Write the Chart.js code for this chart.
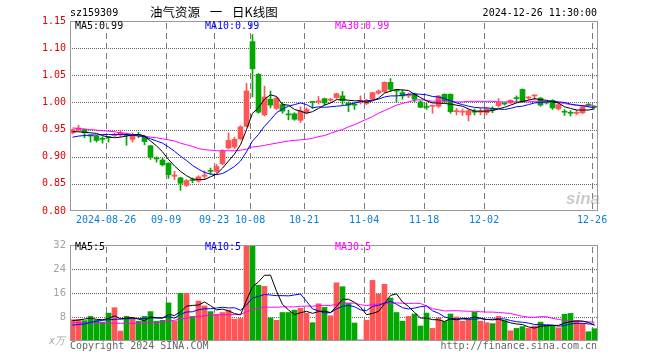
<!DOCTYPE html>
<html>
<head>
<meta charset="utf-8">
<script src="https://cdn.jsdelivr.net/npm/chart.js@4/dist/chart.umd.min.js"></script>
<style>
body { margin: 0; background: #fff; width: 660px; height: 360px; position: relative; overflow: hidden; font-family: "DejaVu Sans Mono", monospace; }
canvas { position: absolute; left: 0; }
.t { position: absolute; font-size: 10px; line-height: 10px; white-space: pre; }
</style>
</head>
<body>
<canvas id="kline" width="660" height="235" style="top:0"></canvas>
<canvas id="vol" width="660" height="125" style="top:235px"></canvas>

<div class="t" style="left:70px;top:8px;color:#000">sz159309</div>
<div class="t" style="left:150px;top:5px;font:12.5px/14px 'Noto Sans CJK SC';word-spacing:7px;color:#000">油气资源 一 日K线图</div>
<div class="t" style="right:63px;top:8px;color:#000">2024-12-26 11:30:00</div>
<div class="t" style="left:75px;top:21px;color:#000">MA5:0.99</div>
<div class="t" style="left:205px;top:21px;color:#0000ff">MA10:0.99</div>
<div class="t" style="left:335px;top:21px;color:#ff00ff">MA30:0.99</div>
<div class="t" style="left:75px;top:242px;color:#000">MA5:5</div>
<div class="t" style="left:205px;top:242px;color:#0000ff">MA10:5</div>
<div class="t" style="left:335px;top:242px;color:#ff00ff">MA30:5</div>
<div class="t" style="left:49px;top:336px;color:#aaa;font-style:italic">x万</div>
<div class="t" style="left:70px;top:341px;color:#666">Copyright 2024 SINA.COM</div>
<div class="t" style="right:63px;top:341px;color:#666">http://finance.sina.com.cn</div>
<div class="t" style="left:566px;top:190px;font:italic bold 17px/18px 'Liberation Sans';color:rgba(150,150,150,.5)">sina</div>

<script>
//Dates (trading days)
const dates = ['08-16','08-19','08-20','08-21','08-22','08-23','08-26','08-27','08-28','08-29',
  '08-30','09-02','09-03','09-04','09-05','09-06','09-09','09-10','09-11','09-12',
  '09-13','09-18','09-19','09-20','09-23','09-24','09-25','09-26','09-27','09-30',
  '10-08','10-09','10-10','10-11','10-14','10-15','10-16','10-17','10-18','10-21',
  '10-22','10-23','10-24','10-25','10-28','10-29','10-30','10-31','11-01','11-04',
  '11-05','11-06','11-07','11-08','11-11','11-12','11-13','11-14','11-15','11-18',
  '11-19','11-20','11-21','11-22','11-25','11-26','11-27','11-28','11-29','12-02',
  '12-03','12-04','12-05','12-06','12-09','12-10','12-11','12-12','12-13','12-16',
  '12-17','12-18','12-19','12-20','12-23','12-24','12-25','12-26'];

const tickDays = ['08-26','09-09','09-23','10-08','10-21','11-04','11-18','12-02','12-26'];
const tickLabels = ['2024-08-26','09-09','09-23','10-08','10-21','11-04','11-18','12-02','12-26'];
const priceTicks = [0.80, 0.85, 0.90, 0.95, 1.00, 1.05, 1.10, 1.15];
const volTicks = [0, 8, 16, 24, 32];

//OHLC
const open = [0.944,0.949,0.950,0.939,0.938,0.933,0.937,0.939,0.940,0.940,
  0.932,0.940,0.937,0.920,0.897,0.894,0.888,0.864,0.861,0.847,
  0.857,0.855,0.864,0.874,0.873,0.887,0.916,0.918,0.933,0.956,
  1.112,1.052,0.977,1.006,0.989,0.996,0.978,0.979,0.967,0.981,
  1.001,1.001,1.007,1.004,1.009,1.012,0.999,0.996,1.002,0.998,
  1.006,1.017,1.020,1.037,1.022,1.018,1.012,1.015,1.001,0.992,
  0.993,0.993,1.015,1.015,0.983,0.982,0.977,0.983,0.982,0.981,
  0.987,0.994,0.998,0.999,1.008,1.024,1.008,1.012,1.008,1.000,
  1.004,0.988,0.983,0.981,0.980,0.981,0.996,0.993];
const high = [0.951,0.958,0.951,0.939,0.939,0.937,0.937,0.943,0.949,0.943,
  0.944,0.945,0.939,0.921,0.900,0.897,0.889,0.873,0.862,0.858,
  0.861,0.865,0.874,0.879,0.886,0.913,0.944,0.936,0.957,1.035,
  1.125,1.053,1.030,1.021,1.010,1.000,0.986,0.981,0.992,0.990,
  1.002,1.011,1.008,1.008,1.017,1.020,1.001,1.000,1.012,1.006,
  1.019,1.023,1.038,1.044,1.024,1.023,1.017,1.017,1.003,0.999,
  0.995,1.013,1.016,1.016,0.989,0.988,0.987,0.988,0.989,0.990,
  0.992,1.007,0.999,1.005,1.012,1.025,1.011,1.014,1.009,1.002,
  1.005,0.999,0.987,0.985,0.986,0.993,0.998,0.994];
const low = [0.942,0.947,0.935,0.927,0.927,0.925,0.927,0.937,0.937,0.921,
  0.927,0.935,0.922,0.895,0.890,0.883,0.860,0.858,0.838,0.845,
  0.852,0.853,0.858,0.868,0.870,0.885,0.914,0.915,0.931,0.955,
  1.010,0.980,0.975,0.990,0.987,0.980,0.968,0.967,0.963,0.979,
  0.989,0.997,0.995,1.002,1.007,0.996,0.983,0.987,0.997,0.996,
  1.005,1.015,1.018,1.020,1.001,1.006,1.009,1.001,0.990,0.987,
  0.980,0.990,1.000,0.980,0.977,0.976,0.966,0.977,0.977,0.977,
  0.981,0.991,0.995,0.998,1.001,1.000,1.005,1.005,0.993,0.997,
  0.987,0.986,0.976,0.975,0.977,0.979,0.992,0.990];
const close = [0.950,0.953,0.944,0.938,0.930,0.932,0.935,0.941,0.944,0.939,
  0.940,0.939,0.928,0.899,0.896,0.885,0.867,0.866,0.851,0.856,
  0.856,0.863,0.866,0.873,0.882,0.910,0.930,0.932,0.955,1.021,
  1.062,0.982,1.010,0.995,1.008,0.984,0.977,0.969,0.984,0.987,
  1.000,1.003,0.999,1.006,1.016,1.003,0.995,0.995,1.004,1.004,
  1.018,1.021,1.037,1.024,1.021,1.012,1.014,1.006,0.991,0.991,
  0.994,1.012,1.003,0.983,0.985,0.983,0.985,0.982,0.984,0.988,
  0.986,0.999,0.997,1.004,1.007,1.001,1.010,1.013,0.995,0.999,
  0.990,0.996,0.982,0.980,0.981,0.992,0.995,0.991];

//Price moving averages
const ma5 = [0.946,0.946,0.945,0.944,0.943,0.939,0.936,0.935,0.936,0.938,
  0.940,0.941,0.938,0.929,0.920,0.909,0.895,0.883,0.873,0.865,
  0.859,0.858,0.858,0.863,0.868,0.879,0.892,0.905,0.922,0.950,
  0.980,0.990,1.006,1.014,1.011,0.996,0.995,0.987,0.984,0.980,
  0.983,0.989,0.995,0.999,1.005,1.005,1.004,1.003,1.003,1.000,
  1.003,1.008,1.017,1.021,1.024,1.023,1.022,1.015,1.009,1.003,
  0.999,0.999,0.998,0.997,0.995,0.993,0.988,0.984,0.984,0.984,
  0.985,0.988,0.991,0.995,0.999,1.002,1.004,1.007,1.005,1.004,
  1.001,0.999,0.992,0.989,0.986,0.986,0.986,0.988];
const ma10 = [0.936,0.938,0.939,0.940,0.940,0.941,0.941,0.941,0.941,0.941,
  0.940,0.938,0.937,0.933,0.929,0.925,0.918,0.910,0.901,0.893,
  0.884,0.877,0.871,0.868,0.867,0.869,0.875,0.882,0.892,0.909,
  0.929,0.941,0.956,0.968,0.981,0.988,0.993,0.996,0.999,0.996,
  0.990,0.992,0.991,0.992,0.993,0.994,0.996,0.999,1.001,1.003,
  1.004,1.006,1.010,1.012,1.012,1.013,1.015,1.016,1.015,1.014,
  1.011,1.010,1.007,1.003,0.999,0.996,0.993,0.991,0.990,0.990,
  0.989,0.988,0.987,0.989,0.992,0.993,0.996,0.999,1.000,1.001,
  1.002,1.001,1.000,0.997,0.995,0.994,0.992,0.990];
const ma30 = [0.953,0.952,0.951,0.950,0.949,0.948,0.947,0.946,0.944,0.943,
  0.941,0.940,0.938,0.936,0.935,0.933,0.931,0.929,0.925,0.922,
  0.919,0.915,0.913,0.912,0.911,0.911,0.911,0.911,0.912,0.914,
  0.918,0.919,0.921,0.923,0.925,0.927,0.929,0.930,0.931,0.932,
  0.934,0.937,0.939,0.943,0.947,0.950,0.955,0.959,0.964,0.969,
  0.974,0.980,0.985,0.990,0.995,0.998,1.001,1.004,1.005,1.004,
  1.002,1.003,1.002,1.002,1.001,1.001,1.002,1.002,1.002,1.002,
  1.002,1.001,1.001,1.001,1.001,1.001,1.001,1.002,1.002,1.002,
  1.001,1.000,0.998,0.996,0.995,0.994,0.994,0.993];

//Volume (x万)
const volume = [7.1,7.1,6.8,8.2,7.0,6.3,9.3,11.1,3.3,8.2,
  7.4,6.6,8.2,9.8,6.6,6.9,12.7,6.6,15.9,15.9,
  8.2,13.3,11.7,9.8,8.9,9.5,10.3,7.3,7.5,33.5,
  31.7,18.6,18.2,7.7,6.9,9.5,9.5,10.3,10.9,9.3,
  6.1,12.4,11.2,8.4,19.4,18.1,12.5,6.0,0.4,6.9,
  20.2,15.7,18.9,14.3,9.5,6.6,8.2,9.0,5.0,9.3,
  4.2,7.7,6.5,9.0,8.0,6.6,7.1,9.6,6.6,6.1,
  5.8,8.2,6.8,3.4,4.2,4.8,4.2,5.0,6.3,5.2,
  5.2,4.4,8.9,9.2,6.8,5.8,3.1,4.1];
const vma5 = [6.8,7.0,7.3,7.6,7.24,7.08,7.52,8.38,7.40,7.64,
  7.86,7.32,6.74,8.04,7.72,7.62,8.84,8.52,9.74,11.6,
  11.86,11.98,13.0,11.78,10.38,10.64,10.04,9.16,8.7,13.62,
  18.06,19.72,21.9,21.94,16.62,12.18,10.36,8.78,9.42,9.9,
  9.22,9.8,9.98,9.48,11.5,13.9,13.92,12.88,11.28,8.78,
  9.2,9.84,12.42,15.2,15.72,13.0,11.5,9.52,7.66,7.62,
  7.14,7.04,6.54,7.34,7.08,7.56,7.44,8.06,7.58,7.2,
  7.04,7.26,6.7,6.06,5.68,5.48,4.68,4.32,4.9,5.1,
  5.18,5.22,5.98,6.44,6.68,6.64,6.16,5.2];
const vma10 = [5.3,5.5,5.7,6.2,6.6,6.9,7.1,7.2,7.3,7.44,
  7.47,7.42,7.56,7.72,7.68,7.74,8.08,7.63,8.89,9.66,
  9.74,10.41,10.76,10.76,10.99,11.25,11.01,11.08,10.24,12.0,
  14.35,14.88,15.53,15.32,15.12,15.12,15.04,15.34,15.68,13.26,
  10.7,10.08,9.38,9.45,10.7,11.56,11.86,11.43,10.38,10.14,
  11.55,11.88,12.65,13.24,12.25,11.1,10.67,10.97,11.43,11.67,
  10.07,9.27,8.03,7.5,7.35,7.35,7.24,7.3,7.46,7.14,
  7.3,7.35,7.38,6.82,6.44,6.26,5.97,5.51,5.48,5.39,
  5.33,4.95,5.15,5.67,5.89,5.91,5.69,5.59];
const vma30 = [6.1,6.1,6.0,6.0,6.0,6.0,6.0,5.9,5.9,5.9,
  5.9,5.9,6.0,6.1,6.2,6.4,6.6,6.9,7.3,7.6,
  7.9,8.2,8.4,8.6,8.7,8.7,8.8,8.8,8.9,9.70,
  10.52,10.90,11.28,11.27,11.26,11.37,11.38,11.35,11.60,11.64,
  11.60,11.79,11.89,11.84,12.27,12.64,12.64,12.62,12.10,11.80,
  12.20,12.28,12.52,12.67,12.69,12.59,12.52,12.58,12.50,11.69,
  10.77,10.41,10.02,10.06,10.10,10.00,9.92,9.90,9.76,9.65,
  9.64,9.50,9.35,9.19,8.68,8.24,7.96,7.93,8.12,8.07,
  7.57,7.19,6.86,6.69,6.60,6.57,6.40,6.24];

//Colours
const UP = '#ff5555';
const DOWN = '#00a800';
const candleColors = close.map((c, i) => c >= open[i] ? UP : DOWN);

const tickIdx = tickDays.map(d => dates.indexOf(d));
const pts = arr => arr.map((v, i) => ({x: i, y: v}));

Chart.defaults.font.family = "'DejaVu Sans Mono', monospace";
Chart.defaults.font.size = 10;

//Grid under the marks (dashed date lines, dotted value lines), grey box on top
function gridFrame(values) {
  return {
    id: 'gridFrame',
    beforeDatasetsDraw(chart) {
      const {ctx, chartArea: a} = chart;
      const xs = chart.scales.x;
      const ys = chart.scales.y;
      const top = Math.round(a.top), bottom = Math.round(a.bottom);
      const left = Math.round(a.left), right = Math.round(a.right);
      ctx.save();
      ctx.fillStyle = '#7a7a7a';
      tickIdx.forEach(j => {
        const px = Math.round(xs.getPixelForValue(j - 0.4));
        for (let yy = top + 2; yy < bottom; yy += 10) {
          ctx.fillRect(px, yy, 1, Math.min(6, bottom - yy));
        }
      });
      ctx.fillStyle = '#666';
      values.forEach(v => {
        const py = Math.round(ys.getPixelForValue(v));
        for (let xx = left; xx < right; xx += 2) {
          ctx.fillRect(xx, py, 1, 1);
        }
      });
      ctx.restore();
    },
    afterDraw(chart) {
      const {ctx, chartArea: a} = chart;
      const top = Math.round(a.top), bottom = Math.round(a.bottom);
      const left = Math.round(a.left), right = Math.round(a.right);
      ctx.save();
      ctx.strokeStyle = '#999';
      ctx.lineWidth = 1;
      ctx.strokeRect(left + 0.5, top + 0.5, right - left - 1, bottom - top - 1);
      ctx.restore();
    }
  };
}

function dateAxis(showLabels, h) {
  return {
    type: 'linear',
    min: -2.5 / 6,
    max: 88 - 2.5 / 6,
    offset: false,
    afterBuildTicks: s => { s.ticks = tickIdx.map(j => ({value: j - 0.4})); },
    ticks: {
      display: showLabels, autoSkip: false, maxRotation: 0, padding: 3,
      color: '#0a7fd4',
      callback: v => tickLabels[tickIdx.indexOf(Math.round(v + 0.4))]
    },
    grid: {display: false, drawTicks: false},
    border: {display: false},
    afterFit: s => { s.height = h; }
  };
}

function lineSet(arr, color) {
  return {type: 'line', data: pts(arr), borderColor: color, borderWidth: 1,
    pointRadius: 0, tension: 0, fill: false, order: 0};
}

const baseOpts = {
  responsive: false,
  animation: false,
  devicePixelRatio: 1,
  events: [],
  plugins: {legend: {display: false}, tooltip: {enabled: false}}
};

//K line
new Chart(document.getElementById('kline'), {
  type: 'bar',
  data: {
    datasets: [
      lineSet(ma5, '#000'),
      lineSet(ma10, '#0000ff'),
      lineSet(ma30, '#ff00ff'),
      {data: low.map((l, i) => ({x: i, y: [l, high[i]]})), backgroundColor: candleColors,
        barThickness: 1, grouped: false, order: 1},
      {data: open.map((o, i) => ({x: i, y: [o, close[i]]})), backgroundColor: candleColors,
        barThickness: 5, minBarLength: 1, grouped: false, order: 1}
    ]
  },
  options: {
    ...baseOpts,
    layout: {padding: {left: 0, right: 62, top: 21, bottom: 0}},
    scales: {
      x: dateAxis(true, 24),
      y: {
        min: 0.8, max: 1.15,
        afterBuildTicks: s => { s.ticks = priceTicks.map(v => ({value: v})); },
        ticks: {color: '#e60000', padding: 4, callback: v => v.toFixed(2)},
        grid: {display: false, drawTicks: false},
        border: {display: false},
        afterFit: s => { s.width = 70; }
      }
    }
  },
  plugins: [gridFrame(priceTicks.slice(1, -1))]
});

//Volume
new Chart(document.getElementById('vol'), {
  type: 'bar',
  data: {
    datasets: [
      lineSet(vma5, '#000'),
      lineSet(vma10, '#0000ff'),
      lineSet(vma30, '#ff00ff'),
      {data: pts(volume), backgroundColor: candleColors, barThickness: 5, grouped: false, order: 1}
    ]
  },
  options: {
    ...baseOpts,
    layout: {padding: {left: 0, right: 62, top: 6, bottom: 0}},
    scales: {
      x: dateAxis(false, 19),
      y: {
        min: 0, max: 32,
        afterBuildTicks: s => { s.ticks = volTicks.map(v => ({value: v})); },
        ticks: {color: '#a0a0a0', padding: 4, font: {family: "'DejaVu Sans'", size: 10},
          callback: v => v === 0 ? '' : String(v)},
        grid: {display: false, drawTicks: false},
        border: {display: false},
        afterFit: s => { s.width = 70; }
      }
    }
  },
  plugins: [gridFrame(volTicks.slice(1, -1))]
});
</script>
</body>
</html>
